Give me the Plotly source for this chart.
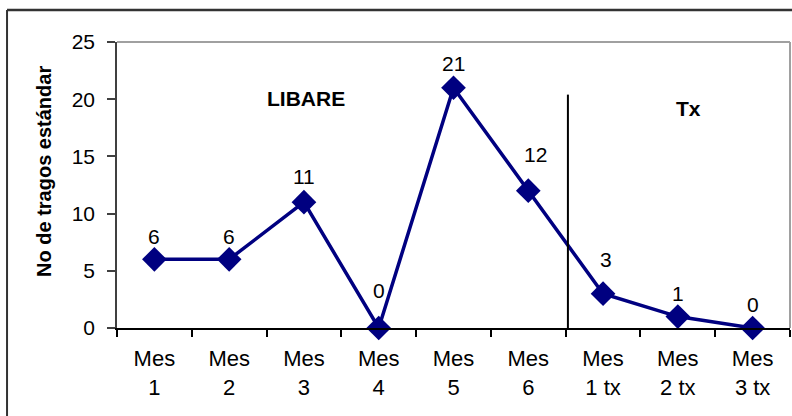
import plotly.graph_objects as go

# Monthly standard-drink counts: six LIBARE months followed by three treatment months
months = ["Mes<br>1", "Mes<br>2", "Mes<br>3", "Mes<br>4", "Mes<br>5", "Mes<br>6",
          "Mes<br>1 tx", "Mes<br>2 tx", "Mes<br>3 tx"]
drinks = [6, 6, 11, 0, 21, 12, 3, 1, 0]
y_ticks = [0, 5, 10, 15, 20, 25]

# pixel offsets of each value label from its marker (label placement only)
label_dy = [23, 23, 26, 38, 24, 36, 34, 23, 24]
label_dx = [0, 0, 0, 0, 0, 7, 3, 0, 0]

NAVY = "#000080"
FONT = "Liberation Sans, Arial, sans-serif"
SIZE = 21

fig = go.Figure()
fig.add_trace(go.Scatter(
    x=months, y=drinks,
    mode="lines+markers",
    line=dict(color=NAVY, width=3.5),
    marker=dict(symbol="diamond", size=19, color=NAVY),
    cliponaxis=False,
    showlegend=False,
))

# value labels above each marker
value_labels = [
    dict(x=m, y=v, xref="x", yref="y", text=str(v), showarrow=False,
         xanchor="center", yanchor="middle", xshift=dx, yshift=dy,
         font=dict(family=FONT, size=SIZE, color="black"))
    for m, v, dx, dy in zip(months, drinks, label_dx, label_dy)
]

fig.update_layout(
    width=792, height=416,
    margin=dict(l=117, r=2, t=42, b=88),
    paper_bgcolor="white", plot_bgcolor="white",
    font=dict(family=FONT, size=SIZE, color="black"),
    xaxis=dict(
        type="category", range=[-0.5, 8.5], tickson="boundaries",
        showgrid=False, zeroline=False,
        showline=True, linecolor="black", linewidth=1.5,
        ticks="outside", ticklen=7, tickcolor="black", tickwidth=1.5,
        ticklabelstandoff=10,
        tickfont=dict(family=FONT, size=22, color="black"),
    ),
    yaxis=dict(
        range=[0, 25], tickvals=y_ticks,
        showgrid=False, zeroline=False,
        showline=True, linecolor="#404040", linewidth=1.5,
        ticks="outside", ticklen=8, tickcolor="#404040", tickwidth=1.5,
        ticklabelstandoff=8,
        tickfont=dict(family=FONT, size=SIZE, color="black"),
    ),
    shapes=[
        # plot-area frame (top and right)
        dict(type="line", xref="paper", yref="paper", x0=0, x1=1, y0=1, y1=1,
             line=dict(color="#a0a0a0", width=2)),
        dict(type="line", xref="paper", yref="paper", x0=1, x1=1, y0=0, y1=1,
             line=dict(color="#a0a0a0", width=2)),
        # divider between LIBARE and treatment months
        dict(type="line", xref="x", yref="y", x0=5.53, x1=5.53, y0=-0.4, y1=20.4,
             line=dict(color="black", width=2)),
        # outer chart border
        dict(type="line", xref="paper", yref="paper", x0=-0.1634, x1=1.01, y0=1.112, y1=1.112,
             line=dict(color="#333333", width=2.5)),
        dict(type="line", xref="paper", yref="paper", x0=-0.1634, x1=-0.1634, y0=1.112, y1=-0.35,
             line=dict(color="#333333", width=2)),
    ],
    annotations=value_labels + [
        # y-axis title
        dict(x=-0.1085, y=0.549, xref="paper", yref="paper", text="<b>No de tragos estándar</b>",
             textangle=-90, showarrow=False, xanchor="center", yanchor="middle",
             font=dict(family=FONT, size=20, color="black")),
        dict(x=2.034, y=20.06, xref="x", yref="y", text="<b>LIBARE</b>", showarrow=False,
             xanchor="center", yanchor="middle",
             font=dict(family=FONT, size=SIZE, color="black")),
        dict(x=7.136, y=19.19, xref="x", yref="y", text="<b>Tx</b>", showarrow=False,
             xanchor="center", yanchor="middle",
             font=dict(family=FONT, size=SIZE, color="black")),
    ],
)

fig.write_html("out.html")
